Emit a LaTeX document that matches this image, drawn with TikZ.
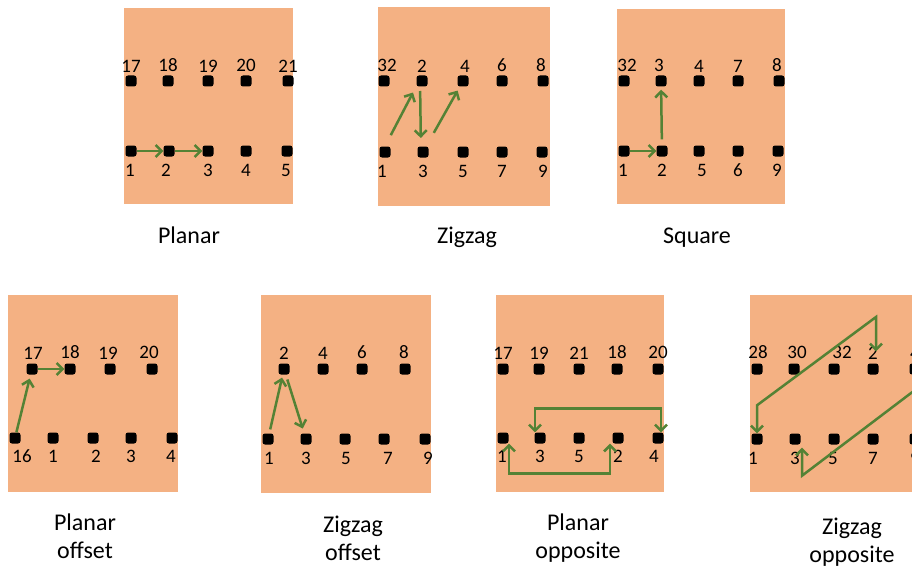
\documentclass[tikz,border=0pt]{standalone}
\usepackage{fontspec}
\setmainfont{Carlito}
\usetikzlibrary{arrows.meta,positioning}

\definecolor{pad}{RGB}{244,177,131}
\definecolor{trace}{RGB}{84,130,53}

\begin{document}
\begin{tikzpicture}[x=1pt, y=-1pt,
    board/.style={fill=pad, draw=none},
    dot/.style={rectangle, fill=black, rounded corners=2.5pt, minimum size=11pt, inner sep=0pt},
    num/.style={font=\fontsize{19}{19}\selectfont, inner sep=0pt},
    arr/.style={-{Straight Barb[length=6pt, width=12pt]}, draw=trace, line width=2.5pt},
    arrs/.style={{Straight Barb[length=6pt, width=12pt]}-{Straight Barb[length=6pt, width=12pt]}, draw=trace, line width=2.5pt},
    captxt/.style={font=\fontsize{24}{28}\selectfont, align=center, anchor=base, inner sep=0pt}
]
\useasboundingbox (0,0) rectangle (912,567);
\clip (0,0) rectangle (912,567);

% Planar
\fill[board] (124,8) rectangle (293,204);
\foreach \x/\n/\dx [count=\i] in {131/17/0,168/18/0,208/19/0,246/20/0,288/21/0}
  \node[dot, label={[num,xshift=\dx pt,label distance=3pt]above:\n}] (pa-t\i) at (\x,81) {};
\foreach \x/\n/\dx [count=\i] in {131/1/-1,169/2/-3,208/3/0,246/4/0,287/5/-1}
  \node[dot, label={[num,xshift=\dx pt,label distance=7pt]below:\n}] (pa-b\i) at (\x,151) {};
\draw[arr] (pa-b1) -- (pa-b2);
\draw[arr] (pa-b2) -- (pa-b3);

% Zigzag
\fill[board] (378,7) rectangle (550,206);
\foreach \x/\n/\dx [count=\i] in {384/32/3,422/2/0,463/4/2,502/6/0,543/8/-2}
  \node[dot, label={[num,xshift=\dx pt,label distance=3pt]above:\n}] (zz-t\i) at (\x,81) {};
\foreach \x/\n/\dx [count=\i] in {385/1/-3,423/3/0,463/5/0,502/7/0,542/9/1}
  \node[dot, label={[num,xshift=\dx pt,label distance=7pt]below:\n}] (zz-b\i) at (\x,152) {};
\draw[arr, shorten <=19pt, shorten >=13pt] ([xshift=-3pt]zz-b1.center) -- ([xshift=-3pt]zz-t2.center);
\draw[arr, shorten <=10pt, shorten >=14pt] ([xshift=-2pt]zz-t2.center) -- ([xshift=-2pt]zz-b2.center);
\draw[arr, shorten <=22pt, shorten >=11pt] (zz-b2.center) -- (zz-t3.center);

% Square
\fill[board] (617,9) rectangle (785,204);
\foreach \x/\n/\dx [count=\i] in {624/32/3,661/3/-2,699/4/0,738/7/0,779/8/-2}
  \node[dot, label={[num,xshift=\dx pt,label distance=3pt]above:\n}] (sq-t\i) at (\x,81) {};
\foreach \x/\n/\dx [count=\i] in {624/1/-1,662/2/0,699/5/3,738/6/0,778/9/-1}
  \node[dot, label={[num,xshift=\dx pt,label distance=7pt]below:\n}] (sq-b\i) at (\x,151) {};
\draw[arr] (sq-b1) -- (sq-b2);
\draw[arr, shorten <=6pt, shorten >=3pt] (sq-b2) -- (sq-t2);

% Planar offset
\fill[board] (8,295) rectangle (178,492);
\foreach \x/\n/\dx [count=\i] in {32/17/1,70/18/0,110/19/-2,152/20/-3}
  \node[dot, label={[num,xshift=\dx pt,label distance=4pt]above:\n}] (po-t\i) at (\x,369) {};
\foreach \x/\n/\dx [count=\i] in {15/16/7,53/1/0,93/2/3,131/3/0,172/4/-1}
  \node[dot, label={[num,xshift=\dx pt,label distance=6pt]below:\n}] (po-b\i) at (\x,438) {};
\draw[arr, shorten >=4pt] (po-b1) -- (po-t1);
\draw[arr] (po-t1) -- (po-t2);

% Zigzag offset
\fill[board] (261,295) rectangle (431,493);
\foreach \x/\n/\dx [count=\i] in {284/2/0,323/4/0,362/6/0,405/8/-1}
  \node[dot, label={[num,xshift=\dx pt,label distance=4pt]above:\n}] (ze-t\i) at (\x,369) {};
\foreach \x/\n/\dx [count=\i] in {268/1/1,306/3/0,345/5/1,384/7/4,425/9/3}
  \node[dot, label={[num,xshift=\dx pt,label distance=7pt]below:\n}] (ze-b\i) at (\x,439) {};
\draw[arr, shorten <=4pt, shorten >=3pt] (ze-b1) -- (ze-t1);
\draw[arr, shorten <=5pt, shorten >=5pt] (ze-t1) -- (ze-b2);

% Planar opposite
\fill[board] (496,295) rectangle (664,492);
\foreach \x/\n/\dx [count=\i] in {503/17/0,539/19/0,579/21/0,617/18/0,658/20/0}
  \node[dot, label={[num,xshift=\dx pt,label distance=4pt]above:\n}] (pp-t\i) at (\x,369) {};
\foreach \x/\n/\dx [count=\i] in {503/1/-1,540/3/0,579/5/0,618/2/0,658/4/-4}
  \node[dot, label={[num,xshift=\dx pt,label distance=6pt]below:\n}] (pp-b\i) at (\x,438) {};
\draw[arrs] ([xshift=6pt]pp-b1.south) -- ++(0,30) -| ([xshift=-8pt]pp-b4.south);
\draw[arrs] ([xshift=-5pt]pp-b2.north) -- ++(0,-24) -| ([xshift=3pt]pp-b5.north);

% Zigzag opposite
\fill[board] (750,295) rectangle (930,492);
\foreach \x/\n/\dx [count=\i] in {757/28/1,794/30/3,834/32/8,873/2/0,915/4/0}
  \node[dot, label={[num,xshift=\dx pt,label distance=4pt]above:\n}] (zp-t\i) at (\x,369) {};
\foreach \x/\n/\dx [count=\i] in {757/1/-4,795/3/0,834/5/-1,873/7/0,915/9/0}
  \node[dot, label={[num,xshift=\dx pt,label distance=7pt]below:\n}] (zp-b\i) at (\x,439) {};
\draw[arrs, shorten >=12pt] (zp-b1.north) -- ++(0,-28) -- ([xshift=3pt,yshift=52pt]zp-t4.center) -- ([xshift=3pt]zp-t4.north);
\draw[arrs, shorten <=3pt] ([xshift=7pt]zp-b2.south) -- ++(0,31) -- ([xshift=4pt,yshift=-18pt]zp-t5.center) -- ([xshift=4pt]zp-t5.south);

% captions
\node[captxt] (c-pa) at (189,243) {Planar};
\node[captxt] (c-zz) at (467,243) {Zigzag};
\node[captxt] (c-sq) at (697,243) {Square};
\node[captxt] (c-po) at (85,558) {Planar\\offset};
\node[captxt] (c-ze) at (353,560) {Zigzag\\offset};
\node[captxt] (c-pp) at (578,558) {Planar\\opposite};
\node[captxt] (c-zp) at (852,562) {Zigzag\\opposite};
\end{tikzpicture}
\end{document}
